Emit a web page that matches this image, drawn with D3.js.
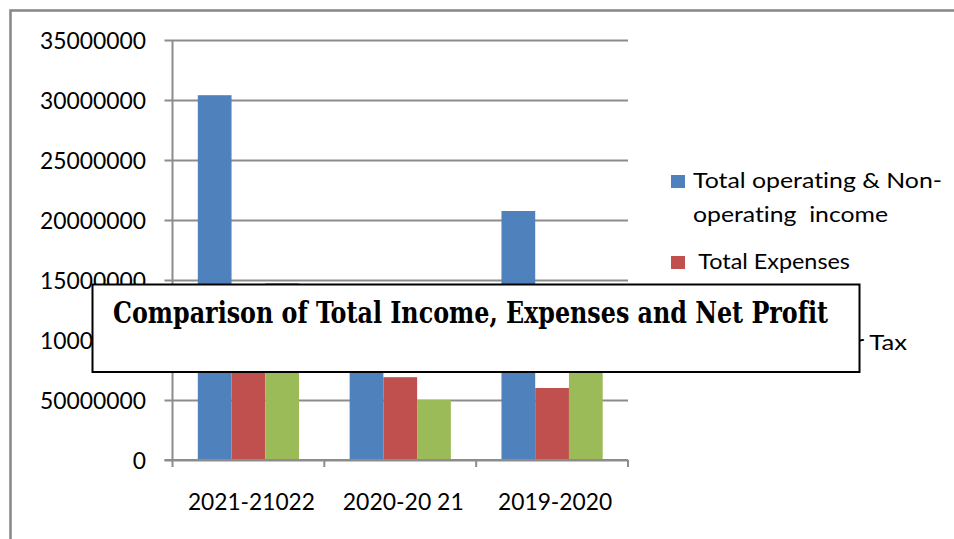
<!DOCTYPE html>
<html>
<head>
<meta charset="utf-8">
<script src="https://cdn.jsdelivr.net/npm/d3@7/dist/d3.min.js"></script>
<style>
  body { margin: 0; background: #fff; }
  text { white-space: pre; font-variant-ligatures: none; font-feature-settings: "liga" 0; }
</style>
</head>
<body>
<svg id="chart" width="954" height="539"></svg>
<script>
// Financial years on the category axis
const categories = ["2021-21022", "2020-20 21", "2019-2020"];

// Series, one value per financial year
const seriesNames = ["Total operating & Non-operating  income", "Total Expenses", "Net Profit after Tax"];
const income    = [30400000, 12300000, 20750000];
const expenses  = [13500000,  6900000,  6000000];
const netProfit = [14750000,  5000000, 11500000];

// Value-axis ticks and their printed labels
const tickValues = [0, 5000000, 10000000, 15000000, 20000000, 25000000, 30000000, 35000000];
const tickLabels = ["0", "50000000", "10000000", "15000000", "20000000", "25000000", "30000000", "35000000"];

const colors = ["#4F81BD", "#C0504D", "#9BBB59"];
const title = "Comparison of Total Income, Expenses and Net Profit";

const series = [income, expenses, netProfit];
const rows = categories.map((c, i) => ({ cat: c, values: series.map(s => s[i]) }));

const svg = d3.select("#chart");
const sansFont = "Lato, 'Open Sans', sans-serif";
const serifFont = "'DejaVu Serif', 'Liberation Serif', serif";
const gridColor = "#8c8c8c";

// Plot area
const plot = { left: 172.5, right: 628, top: 40, bottom: 460 };

const y = d3.scaleLinear().domain([0, 35000000]).range([plot.bottom, plot.top]);
const x0 = d3.scaleBand().domain(categories).range([plot.left, plot.right]).paddingInner(0).paddingOuter(0);
const barW = x0.bandwidth() / 4.5;
const x1 = d3.scaleBand().domain(d3.range(series.length)).range([0, barW * series.length]).padding(0);
const groupOffset = (x0.bandwidth() - barW * series.length) / 2;

// Outer chart frame (only its top and left edges fall inside the page)
svg.append("rect")
  .attr("x", 10.5).attr("y", 10.5)
  .attr("width", 1200).attr("height", 1200)
  .attr("fill", "none").attr("stroke", "#8a8a8a").attr("stroke-width", 2.6);

// Horizontal gridlines with left tick marks
const yAxis = d3.axisLeft(y)
  .tickValues(tickValues)
  .tickFormat((d, i) => tickLabels[i])
  .tickSize(-(plot.right - plot.left))
  .tickPadding(26);

const gy = svg.append("g").attr("transform", `translate(${plot.left},0)`).call(yAxis);
gy.select(".domain").remove();
gy.selectAll(".tick line")
  .attr("x1", -8)
  .attr("stroke", gridColor).attr("stroke-width", 2);
gy.selectAll(".tick text")
  .attr("font-family", sansFont)
  .attr("font-size", 24)
  .attr("fill", "#000")
  .attr("dy", "0.37em")
  .attr("x", 146 - plot.left)
  .attr("textLength", function () { return this.textContent.length * 13.25; })
  .attr("lengthAdjust", "spacingAndGlyphs");

// Vertical value-axis line
svg.append("line")
  .attr("x1", plot.left).attr("x2", plot.left)
  .attr("y1", plot.top).attr("y2", plot.bottom)
  .attr("stroke", gridColor).attr("stroke-width", 2);

// Bars
const groups = svg.append("g").selectAll("g")
  .data(rows).join("g")
  .attr("transform", d => `translate(${x0(d.cat) + groupOffset},0)`);

groups.selectAll("rect")
  .data(d => d.values.map((v, k) => ({ v, k })))
  .join("rect")
  .attr("x", d => x1(d.k))
  .attr("width", x1.bandwidth())
  .attr("y", d => y(d.v))
  .attr("height", d => y(0) - y(d.v))
  .attr("fill", d => colors[d.k]);

// Category axis
const xAxis = d3.axisBottom(x0).tickSize(0).tickPadding(0);
const gx = svg.append("g").attr("transform", `translate(0,${plot.bottom})`).call(xAxis);
gx.select(".domain").remove();
gx.selectAll(".tick text")
  .attr("font-family", sansFont)
  .attr("font-size", 24)
  .attr("fill", "#000")
  .attr("dy", 0)
  .attr("y", 50)
  .attr("x", 3)
  .attr("textLength", function () { return this.textContent === "2019-2020" ? 114 : (this.textContent === "2020-20 21" ? 121 : 127); })
  .attr("lengthAdjust", "spacingAndGlyphs");

svg.append("line")
  .attr("x1", plot.left - 8).attr("x2", plot.right)
  .attr("y1", plot.bottom).attr("y2", plot.bottom)
  .attr("stroke", gridColor).attr("stroke-width", 2);

// Category boundary ticks
const boundaries = categories.map(c => x0(c)).concat([plot.right]);
svg.append("g").selectAll("line")
  .data(boundaries).join("line")
  .attr("x1", d => d).attr("x2", d => d)
  .attr("y1", plot.bottom).attr("y2", plot.bottom + 7)
  .attr("stroke", gridColor).attr("stroke-width", 2);

// Legend
const legendLines = [
  ["Total operating & Non-", "operating  income"],
  [" Total Expenses"],
  ["Net Profit after Tax"]
];
const legendWidths = [[249, 195], [157], [214]];
const legendBase = [188, 269, 350];
const legend = svg.append("g");
legendLines.forEach((lines, i) => {
  legend.append("rect")
    .attr("x", 671).attr("y", legendBase[i] - 13)
    .attr("width", 14).attr("height", 13)
    .attr("fill", colors[i]);
  lines.forEach((t, j) => {
    legend.append("text")
      .attr("x", 693).attr("y", legendBase[i] + j * 33.7)
      .attr("font-family", sansFont)
      .attr("font-size", 22)
      .attr("fill", "#000")
      .attr("textLength", legendWidths[i][j])
      .attr("lengthAdjust", "spacingAndGlyphs")
      .text(t);
  });
});

// Title box laid over the plot
svg.append("rect")
  .attr("x", 92.5).attr("y", 284.5)
  .attr("width", 767).attr("height", 87.5)
  .attr("fill", "#fff").attr("stroke", "#000").attr("stroke-width", 2);

svg.append("text")
  .attr("x", 470.5).attr("y", 323)
  .attr("text-anchor", "middle")
  .attr("font-family", serifFont)
  .attr("font-stretch", "condensed")
  .attr("font-weight", "bold")
  .attr("font-size", 29)
  .attr("fill", "#000")
  .attr("textLength", 715)
  .attr("lengthAdjust", "spacingAndGlyphs")
  .text(title);
</script>
</body>
</html>
